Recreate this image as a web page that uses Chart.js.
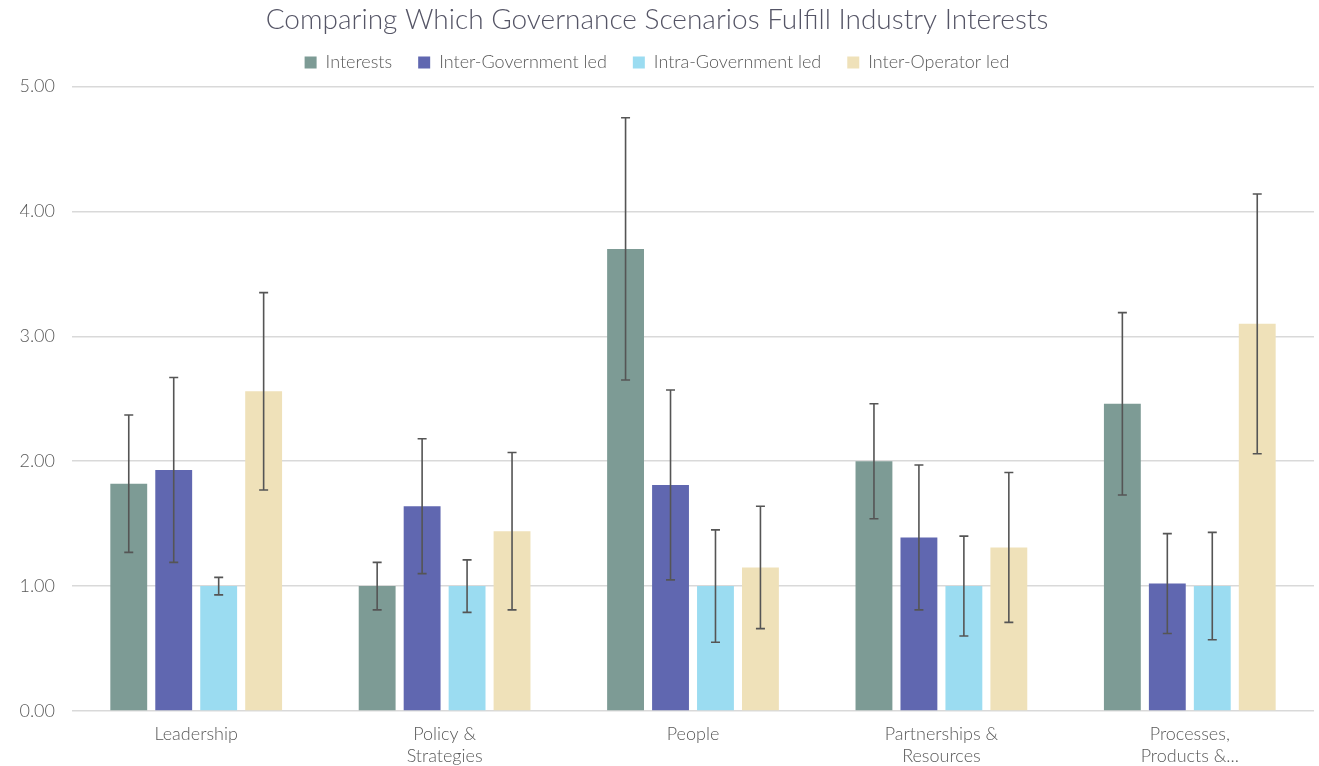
<!DOCTYPE html>
<html>
<head>
<meta charset="utf-8">
<script src="https://cdn.jsdelivr.net/npm/chart.js@4/dist/chart.umd.min.js"></script>
<style>
  html, body { margin: 0; padding: 0; background: #fff; }
  .chart-Box { width: 1319px; height: 766px; }
</style>
</head>
<body>
<div class="chart-Box"><canvas id="govChart"></canvas></div>
<script>
'use strict';

//カテゴリー
var categories = ['Leadership', ['Policy &', 'Strategies'], 'People', ['Partnerships &', 'Resources'], ['Processes,', 'Products &...']];

//各シナリオの平均値
var interests = [1.82, 1.00, 3.70, 2.00, 2.46];
var interGov = [1.93, 1.64, 1.81, 1.39, 1.02];
var intraGov = [1.00, 1.00, 1.00, 1.00, 1.00];
var interOp = [2.56, 1.44, 1.15, 1.31, 3.10];

//誤差（標準偏差）
var interestsErr = [0.55, 0.19, 1.05, 0.46, 0.73];
var interGovErr = [0.74, 0.54, 0.76, 0.58, 0.40];
var intraGovErr = [0.07, 0.21, 0.45, 0.40, 0.43];
var interOpErr = [0.79, 0.63, 0.49, 0.60, 1.04];

//目盛
var yTicks = [0, 1, 2, 3, 4, 5];

var textColor = '#595959';
var fontName = 'Lato, "Open Sans", sans-serif';

//エラーバーを描くプラグイン
var errorBars = {
  id: 'errorBars',
  afterDatasetsDraw: function(chart) {
    var ctx = chart.ctx;
    var yScale = chart.scales.y;
    ctx.save();
    ctx.strokeStyle = '#555555';
    ctx.lineWidth = 1.6;
    chart.data.datasets.forEach(function(ds, i) {
      var meta = chart.getDatasetMeta(i);
      meta.data.forEach(function(bar, j) {
        var v = ds.data[j];
        var e = ds.errors[j];
        var top = yScale.getPixelForValue(v + e);
        var bottom = yScale.getPixelForValue(v - e);
        var x = bar.x;
        ctx.beginPath();
        ctx.moveTo(x, top);
        ctx.lineTo(x, bottom);
        ctx.moveTo(x - 4.5, top);
        ctx.lineTo(x + 4.5, top);
        ctx.moveTo(x - 4.5, bottom);
        ctx.lineTo(x + 4.5, bottom);
        ctx.stroke();
      });
    });
    ctx.restore();
  }
};

//凡例とグラフの間を少し空ける
var legendGap = {
  id: 'legendGap',
  afterInit: function(chart) {
    var legend = chart.legend;
    var fitLegend = legend.fit;
    legend.fit = function() {
      fitLegend.call(this);
      this.height += 5;
    };
  }
};

var ctx = document.getElementById('govChart');
var myChart = new Chart(ctx, {
  type: 'bar',
  data: {
    labels: categories,
    datasets: [
      { label: 'Interests', data: interests, errors: interestsErr, backgroundColor: '#7d9b95' },
      { label: 'Inter-Government led', data: interGov, errors: interGovErr, backgroundColor: '#6067b0' },
      { label: 'Intra-Government led', data: intraGov, errors: intraGovErr, backgroundColor: '#9bdcf1' },
      { label: 'Inter-Operator led', data: interOp, errors: interOpErr, backgroundColor: '#efe1b9' }
    ]
  },
  options: {
    responsive: true,
    maintainAspectRatio: false,
    animation: false,
    categoryPercentage: 0.724,
    barPercentage: 0.82,
    layout: { padding: { left: 0, right: 5, top: 0, bottom: 0 } },
    plugins: {
      title: {
        display: true,
        text: 'Comparing Which Governance Scenarios Fulfill Industry Interests',
        color: '#555566',
        font: { family: fontName, size: 28, weight: '300' },
        padding: { top: 3, bottom: -9 }
      },
      legend: {
        labels: {
          color: textColor,
          font: { family: fontName, size: 18, weight: '300' },
          boxWidth: 12,
          boxHeight: 12,
          padding: 26
        }
      },
      tooltip: { enabled: false }
    },
    scales: {
      x: {
        afterFit: function(scale) { scale.height = 55; },
        grid: { display: false, drawTicks: false },
        border: { display: false },
        ticks: {
          color: textColor,
          font: { family: fontName, size: 18, weight: '300', lineHeight: 1.22 },
          padding: 12,
          maxRotation: 0,
          autoSkip: false
        }
      },
      y: {
        min: yTicks[0],
        max: yTicks[yTicks.length - 1],
        afterFit: function(scale) { scale.width = 72; },
        afterBuildTicks: function(scale) {
          scale.ticks = yTicks.map(function(v) { return { value: v }; });
        },
        grid: { color: '#d9d9d9', lineWidth: 1.5, drawTicks: false },
        border: { display: false },
        ticks: {
          color: textColor,
          font: { family: fontName, size: 18, weight: '300' },
          padding: 17,
          callback: function(v) { return Number(v).toFixed(2); }
        }
      }
    }
  },
  plugins: [errorBars, legendGap]
});
</script>
</body>
</html>
